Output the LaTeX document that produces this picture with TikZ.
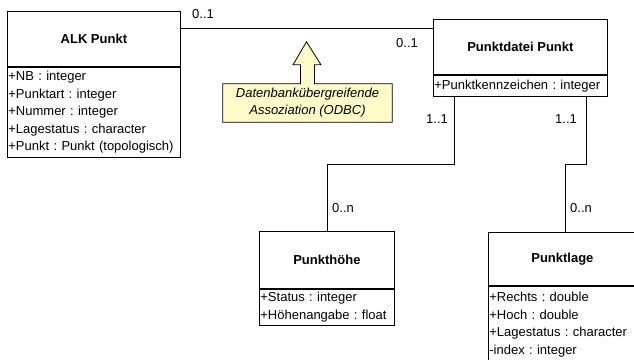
\documentclass[tikz,border=0pt]{standalone}
\usepackage{fontspec}
\setmainfont{Liberation Sans}
\usetikzlibrary{calc,backgrounds}
\definecolor{notefill}{HTML}{FFFBC8}
\frenchspacing
\begin{document}
\begin{tikzpicture}[x=1pt,y=-1pt,
  every node/.style={font=\fontsize{13}{17.5}\selectfont},
  line/.style={draw=black,line width=0.8pt},
  clstitle/.style={line,fill=white,anchor=north west,inner sep=0pt,
    font=\fontsize{13}{17.5}\selectfont\bfseries},
  clsattr/.style={line,fill=white,anchor=north west,inner xsep=1pt,inner ysep=0pt,align=left},
  mult/.style={inner sep=0pt},
  notebox/.style={inner sep=0pt,align=center,
    font=\fontsize{13}{17}\selectfont\itshape}]
\clip (0,0) rectangle (634,359);

% ALK Punkt
\node[clstitle,minimum width=173,minimum height=55] (alk) at (7,11) {ALK Punkt};
\node[clsattr,text width=171,minimum height=90] (alkA) at (alk.south west)
  {+NB : integer\\+Punktart : integer\\+Nummer : integer\\+Lagestatus : character\\+Punkt : Punkt (topologisch)};

% Punktdatei Punkt
\node[clstitle,minimum width=174,minimum height=55] (pdp) at (433,19) {Punktdatei Punkt\hspace{12pt}};
\node[clsattr,text width=172,minimum height=21] (pdpA) at (pdp.south west)
  {+Punktkennzeichen : integer};

% Punkthoehe
\node[clstitle,minimum width=135,minimum height=57] (pho) at (259,231) {Punkth\"ohe\hspace{6pt}};
\node[clsattr,text width=133,minimum height=36] (phoA) at (pho.south west)
  {+Status : integer\\+H\"ohenangabe : float};

% Punktlage
\node[clstitle,minimum width=148,minimum height=53] (plg) at (488,232) {Punktlage};
\node[clsattr,text width=146,minimum height=77] (plgA) at (plg.south west)
  {+Rechts : double\\+Hoch : double\\+Lagestatus : character\\-index : integer};

% associations
\draw[line] ($(alk.north east)+(0,17)$) -- ($(pdp.north west)+(0,9)$);
\draw[line] ($(pdpA.south west)+(21,0)$) -- ++(0,68) -| (pho.north);
\draw[line] ($(pdpA.south east)+(-21,0)$) -- ++(0,68) -| ($(plg.north west)+(77,0)$);

% multiplicities
\node[mult] (m1) at (203,14) {0..1};
\node[mult] (m2) at (407,43) {0..1};
\node[mult] (m3) at (437,119) {1..1};
\node[mult] (m4) at (566,119) {1..1};
\node[mult] (m5) at (343,208) {0..n};
\node[mult] (m6) at (581,208) {0..n};

% note with block arrow
\node[notebox,minimum width=169,minimum height=38] (note) at (307.5,103)
  {Datenbank\"ubergreifende\\Assoziation (ODBC)};
\begin{pgfonlayer}{background}
\fill[white] (0,0) rectangle (634,359);
\filldraw[line,fill=notefill,line join=miter]
  (note.north west) -- ($(note.north)+(-7,0)$) -- ($(note.north)+(-7,-19)$)
  -- ($(note.north)+(-14.5,-19)$) -- ($(note.north)+(-1,-42)$)
  -- ($(note.north)+(13.5,-19)$) -- ($(note.north)+(7,-19)$)
  -- ($(note.north)+(7,0)$) -- (note.north east) -- (note.south east)
  -- (note.south west) -- cycle;
\end{pgfonlayer}
\end{tikzpicture}
\end{document}
